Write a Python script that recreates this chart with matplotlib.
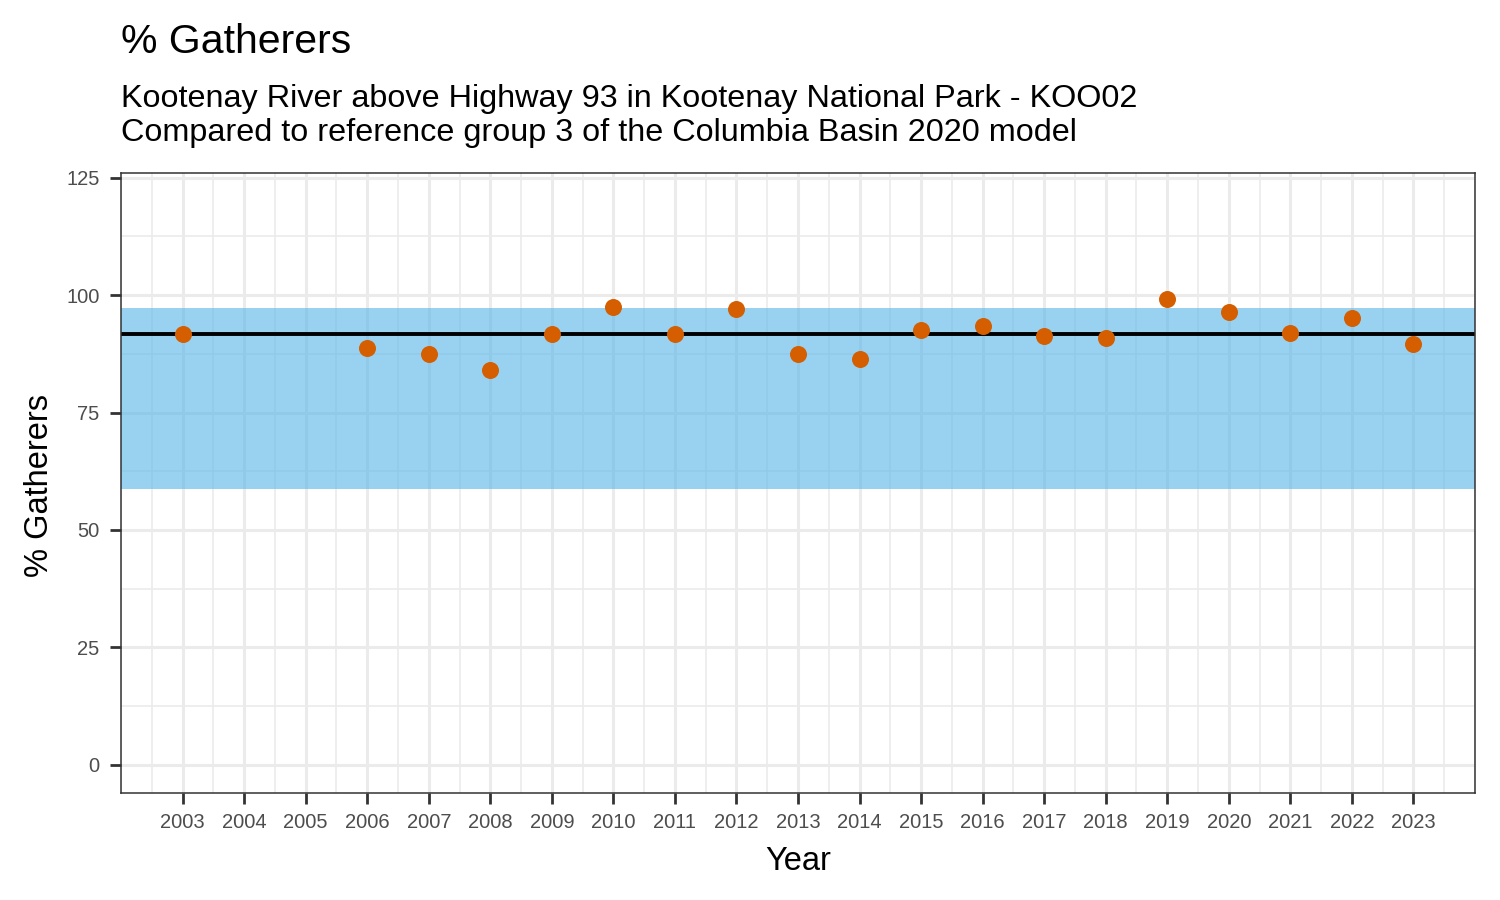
import numpy as np
import matplotlib
matplotlib.use("Agg")
import matplotlib.pyplot as plt
from matplotlib.ticker import MultipleLocator

plt.rcParams['font.family'] = ['Liberation Sans', 'DejaVu Sans']

# data
years = [2003, 2006, 2007, 2008, 2009, 2010, 2011, 2012, 2013, 2014, 2015,
         2016, 2017, 2018, 2019, 2020, 2021, 2022, 2023]
pct_gatherers = [91.8, 88.7, 87.4, 84.1, 91.8, 97.5, 91.8, 97.0, 87.4, 86.3, 92.5,
                 93.4, 91.3, 90.8, 99.1, 96.5, 92.0, 95.2, 89.5]
ref_mean = 91.8
ref_low = 58.8
ref_high = 97.2
year_ticks = list(range(2003, 2024))
y_ticks = [0, 25, 50, 75, 100, 125]

fig = plt.figure(figsize=(15, 9), dpi=100)
ax = fig.add_axes([0.0807, 0.1189, 0.9026, 0.6889])

ax.set_xlim(2002, 2024)
ax.set_ylim(-6, 126)
ax.set_xticks(year_ticks)
ax.set_xticklabels([str(y) for y in year_ticks])
ax.set_yticks(y_ticks)
ax.xaxis.set_minor_locator(MultipleLocator(0.5))
ax.yaxis.set_minor_locator(MultipleLocator(12.5))

ax.set_axisbelow(True)
ax.grid(which='major', color='#EBEBEB', linewidth=2.2, zorder=0)
ax.grid(which='minor', color='#EBEBEB', linewidth=1.2, zorder=0)
ax.tick_params(which='minor', length=0)
ax.tick_params(which='major', length=8, width=2.0, color='#333333',
               labelsize=14.5, labelcolor='#4D4D4D')
ax.tick_params(axis='x', pad=6.5)
ax.tick_params(axis='y', pad=7.5)

ax.axhspan(ref_low, ref_high, color='#56B4E9', alpha=0.6, lw=0, zorder=1)
ax.axhline(ref_mean, color='black', lw=2.8, zorder=2)
ax.scatter(years, pct_gatherers, s=150, color='#D55E00', lw=0, zorder=3)

for sp in ax.spines.values():
    sp.set_color('#333333')
    sp.set_linewidth(1.1)

# axis titles
fig.text(0.532, 0.0333, 'Year', fontsize=23.5, ha='center', va='baseline')
fig.text(0.0318, 0.461, '% Gatherers', fontsize=23.5, rotation=90,
         rotation_mode='anchor', ha='center', va='baseline')

# title and subtitle
fig.text(0.0807, 0.9414, '% Gatherers', fontsize=29.5, ha='left', va='baseline')
fig.text(0.0807, 0.8814,
         'Kootenay River above Highway 93 in Kootenay National Park - KOO02',
         fontsize=23.3, ha='left', va='baseline')
fig.text(0.0807, 0.8433,
         'Compared to reference group 3 of the Columbia Basin 2020 model',
         fontsize=23.3, ha='left', va='baseline')

fig.savefig('out.png', dpi=100)
